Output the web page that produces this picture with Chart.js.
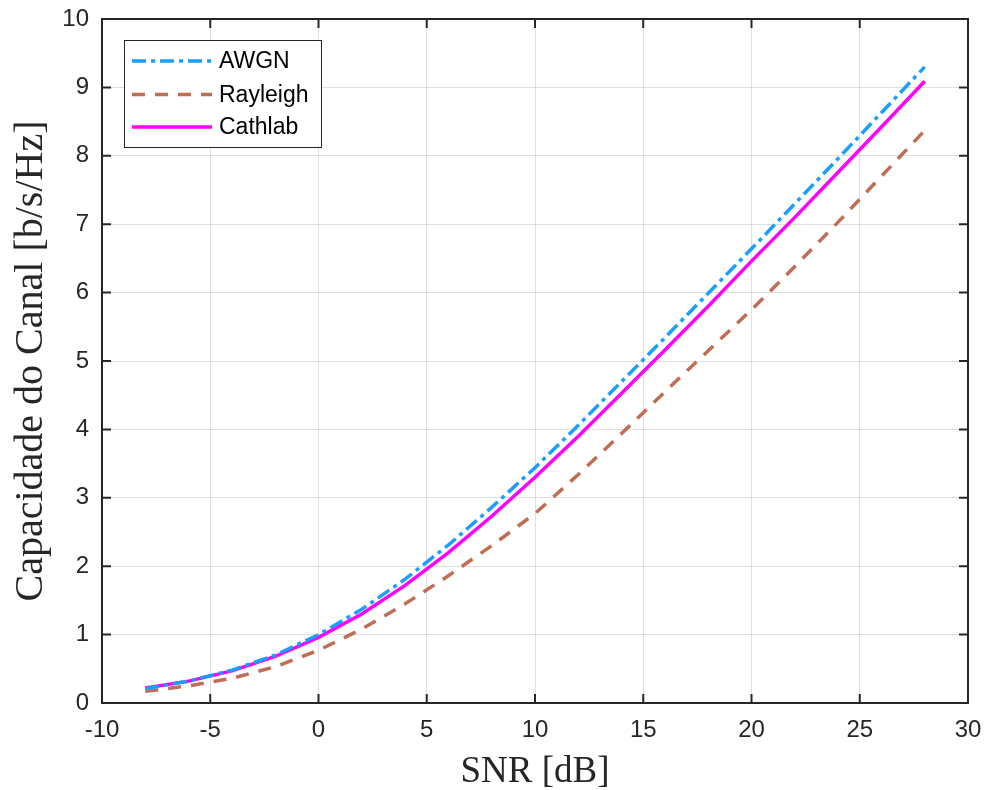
<!DOCTYPE html>
<html>
<head>
<meta charset="utf-8">
<script src="https://cdn.jsdelivr.net/npm/chart.js@4.4.1/dist/chart.umd.min.js"></script>
<style>
    html, body { margin: 0; padding: 0; background: #ffffff; }
    #wrap { width: 986px; height: 790px; }
</style>
</head>
<body>
<div id="wrap"><canvas id="capacity-chart" width="986" height="790"></canvas></div>
<script>
// SNR points (dB) and capacities
const snrDb = [-8, -6, -4, -2, 0, 2, 4, 6, 8, 10, 12, 14, 16, 18, 20, 22, 24, 26, 28];
const awgn = [0.21, 0.32, 0.48, 0.70, 1.00, 1.37, 1.81, 2.31, 2.86, 3.44, 4.06, 4.70, 5.34, 5.99, 6.64, 7.30, 7.96, 8.63, 9.30];
const rayleigh = [0.17, 0.25, 0.36, 0.53, 0.77, 1.08, 1.45, 1.86, 2.30, 2.77, 3.34, 3.94, 4.55, 5.15, 5.75, 6.38, 7.03, 7.70, 8.37];
const cathlab = [0.22, 0.32, 0.47, 0.68, 0.96, 1.30, 1.72, 2.20, 2.73, 3.30, 3.90, 4.53, 5.16, 5.80, 6.46, 7.10, 7.76, 8.42, 9.09];
const seriesNames = ['AWGN', 'Rayleigh', 'Cathlab'];
const xTicks = [-10, -5, 0, 5, 10, 15, 20, 25, 30];
const yTicks = [0, 1, 2, 3, 4, 5, 6, 7, 8, 9, 10];

const AXIS_COLOR = '#262626';

function toPoints(values) {
    return snrDb.map((x, i) => ({ x: x, y: values[i] }));
}

// box around the axes with matlab style inward ticks
const boxPlugin = {
    id: 'matlabBox',
    afterDatasetsDraw(chart) {
        const ctx = chart.ctx;
        const a = chart.chartArea;
        const xs = chart.scales.x;
        const ys = chart.scales.y;
        const len = 9;
        ctx.save();
        ctx.strokeStyle = AXIS_COLOR;
        ctx.lineWidth = 2;
        ctx.strokeRect(a.left, a.top, a.right - a.left, a.bottom - a.top);
        ctx.beginPath();
        xTicks.forEach(v => {
            const px = xs.getPixelForValue(v);
            ctx.moveTo(px, a.bottom); ctx.lineTo(px, a.bottom - len);
            ctx.moveTo(px, a.top); ctx.lineTo(px, a.top + len);
        });
        yTicks.forEach(v => {
            const py = ys.getPixelForValue(v);
            ctx.moveTo(a.left, py); ctx.lineTo(a.left + len, py);
            ctx.moveTo(a.right, py); ctx.lineTo(a.right - len, py);
        });
        ctx.stroke();
        ctx.restore();
    }
};

// legend box inside the plot, upper left
const legendPlugin = {
    id: 'insideLegend',
    afterDraw(chart) {
        const ctx = chart.ctx;
        const bx = 124, by = 40, bw = 197, bh = 107;
        const rows = [61, 94.5, 127];
        ctx.save();
        ctx.fillStyle = '#ffffff';
        ctx.fillRect(bx, by, bw, bh);
        ctx.strokeStyle = AXIS_COLOR;
        ctx.lineWidth = 1;
        ctx.strokeRect(bx + 0.5, by + 0.5, bw, bh);
        ctx.font = '23px "Liberation Sans", Arial, sans-serif';
        ctx.textBaseline = 'middle';
        chart.data.datasets.forEach((ds, i) => {
            const y = rows[i];
            ctx.beginPath();
            ctx.strokeStyle = ds.borderColor;
            ctx.lineWidth = ds.borderWidth;
            ctx.setLineDash(ds.borderDash || []);
            ctx.moveTo(132, y);
            ctx.lineTo(212, y);
            ctx.stroke();
            ctx.setLineDash([]);
            ctx.fillStyle = '#000000';
            ctx.fillText(ds.label, 219, y + 1);
        });
        ctx.restore();
    }
};

const ctx = document.getElementById('capacity-chart').getContext('2d');
const chart = new Chart(ctx, {
    type: 'line',
    data: {
        datasets: [
            {
                label: seriesNames[0],
                data: toPoints(awgn),
                borderColor: '#1a9fff',
                borderWidth: 3.5,
                borderDash: [14, 5, 4, 5]
            },
            {
                label: seriesNames[1],
                data: toPoints(rayleigh),
                borderColor: '#bf6e55',
                borderWidth: 3.5,
                borderDash: [13, 10]
            },
            {
                label: seriesNames[2],
                data: toPoints(cathlab),
                borderColor: '#ff00ff',
                borderWidth: 3.5
            }
        ]
    },
    options: {
        responsive: false,
        animation: false,
        layout: { padding: { top: 19, right: 18, left: 0, bottom: 0 } },
        elements: {
            point: { radius: 0 },
            line: { tension: 0, fill: false }
        },
        plugins: {
            legend: { display: false },
            tooltip: { enabled: false }
        },
        scales: {
            x: {
                type: 'linear',
                min: -10,
                max: 30,
                afterBuildTicks: scale => { scale.ticks = xTicks.map(v => ({ value: v })); },
                afterFit: scale => {
                    scale.height = 87;
                    scale.paddingLeft = 0;
                    scale.paddingRight = 0;
                },
                grid: { color: 'rgba(38,38,38,0.15)', lineWidth: 1, drawTicks: false },
                border: { display: false },
                ticks: {
                    color: AXIS_COLOR,
                    padding: 13,
                    maxRotation: 0,
                    font: { family: '"Liberation Sans", Arial, sans-serif', size: 24 }
                },
                title: {
                    display: true,
                    text: 'SNR [dB]',
                    color: AXIS_COLOR,
                    padding: { top: 0, bottom: -4 },
                    font: { family: '"Liberation Serif", "Times New Roman", serif', size: 37 }
                }
            },
            y: {
                type: 'linear',
                min: 0,
                max: 10,
                afterBuildTicks: scale => { scale.ticks = yTicks.map(v => ({ value: v })); },
                afterFit: scale => {
                    scale.width = 102;
                    scale.paddingTop = 0;
                    scale.paddingBottom = 0;
                },
                grid: { color: 'rgba(38,38,38,0.15)', lineWidth: 1, drawTicks: false },
                border: { display: false },
                ticks: {
                    color: AXIS_COLOR,
                    padding: 13,
                    font: { family: '"Liberation Sans", Arial, sans-serif', size: 24 }
                },
                title: {
                    display: true,
                    text: 'Capacidade do Canal [b/s/Hz]',
                    color: AXIS_COLOR,
                    padding: { top: 7, bottom: 0 },
                    font: { family: '"Liberation Serif", "Times New Roman", serif', size: 40 }
                }
            }
        }
    },
    plugins: [boxPlugin, legendPlugin]
});
</script>
</body>
</html>
